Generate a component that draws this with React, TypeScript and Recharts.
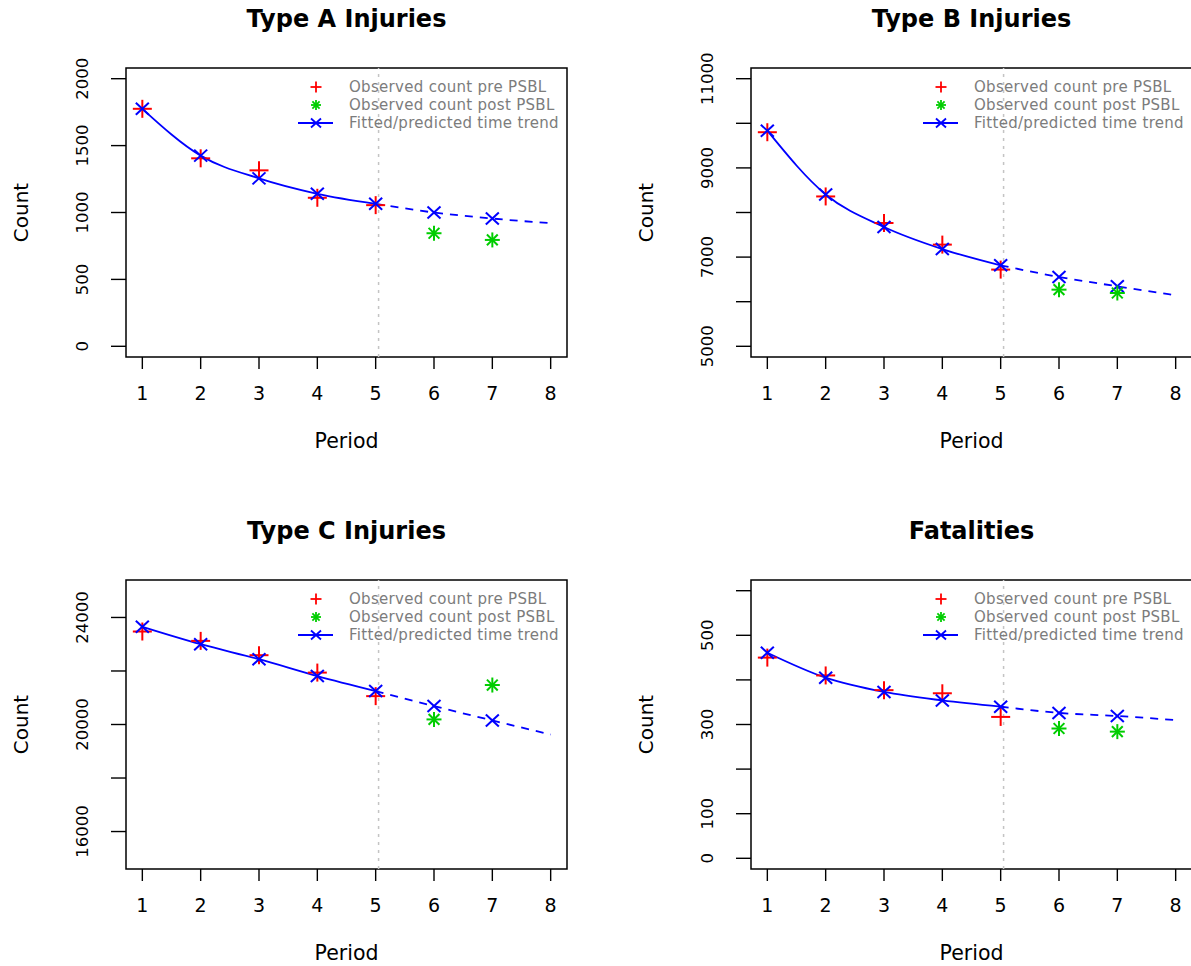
import React from 'react';
import { ComposedChart, Line, Scatter, XAxis, YAxis, ReferenceLine, ReferenceArea } from 'recharts';

// periods and intervention point
const PERIODS = [1, 2, 3, 4, 5, 6, 7, 8];
const PRE_PERIODS = [1, 2, 3, 4, 5];
const POST_PERIODS = [6, 7];
const X_LIM = [1, 8];
const PSBL_START = 5.05;

// Type A
const TYPE_A_PRE = [1775, 1405, 1315, 1110, 1055];
const TYPE_A_POST = [845, 795];
const TYPE_A_FIT = [1775, 1425, 1255, 1140, 1065, 1000, 955, 920];
const TYPE_A_YLIM = [0, 2000];
const TYPE_A_TICKS = [0, 500, 1000, 1500, 2000];
const TYPE_A_LABELS = [0, 500, 1000, 1500, 2000];

// Type B
const TYPE_B_PRE = [9800, 8360, 7765, 7280, 6720];
const TYPE_B_POST = [6270, 6195];
const TYPE_B_FIT = [9835, 8405, 7675, 7180, 6815, 6555, 6345, 6145];
const TYPE_B_YLIM = [5000, 11000];
const TYPE_B_TICKS = [5000, 6000, 7000, 8000, 9000, 10000, 11000];
const TYPE_B_LABELS = [5000, 7000, 9000, 11000];

// Type C
const TYPE_C_PRE = [23475, 23125, 22590, 21940, 21060];
const TYPE_C_POST = [20190, 21475];
const TYPE_C_FIT = [23650, 23000, 22440, 21810, 21250, 20690, 20150, 19625];
const TYPE_C_YLIM = [15000, 25000];
const TYPE_C_TICKS = [16000, 18000, 20000, 22000, 24000];
const TYPE_C_LABELS = [16000, 20000, 24000];

// Fatalities
const FATAL_PRE = [450, 410, 377, 370, 317];
const FATAL_POST = [291, 284];
const FATAL_FIT = [461, 405, 373, 354, 340, 326, 319, 310];
const FATAL_YLIM = [0, 600];
const FATAL_TICKS = [0, 100, 200, 300, 400, 500, 600];
const FATAL_LABELS = [0, 100, 300, 500];

const RED = '#ff0000';
const GREEN = '#00cd00';
const BLUE = '#0000ff';

const CELL_W = 625;
const CELL_H = 512;

// R-style 4% axis extension
const extend = (lim: number[]) => {
    const pad = (lim[1] - lim[0]) * 0.04;
    return [lim[0] - pad, lim[1] + pad];
};

const PlusMark = ({ cx, cy, w = 9.5, h = 9, sw = 2 }: any) => (
    <g stroke={RED} strokeWidth={sw}>
        <line x1={cx - w} y1={cy} x2={cx + w} y2={cy} />
        <line x1={cx} y1={cy - h} x2={cx} y2={cy + h} />
    </g>
);

const CrossMark = ({ cx, cy, w = 6.5, h = 6, sw = 2 }: any) => (
    <g stroke={BLUE} strokeWidth={sw}>
        <line x1={cx - w} y1={cy - h} x2={cx + w} y2={cy + h} />
        <line x1={cx - w} y1={cy + h} x2={cx + w} y2={cy - h} />
    </g>
);

const StarMark = ({ cx, cy, r = 7.5, sw = 2 }: any) => (
    <g stroke={GREEN} strokeWidth={sw}>
        <line x1={cx - r} y1={cy} x2={cx + r} y2={cy} />
        <line x1={cx} y1={cy - r} x2={cx} y2={cy + r} />
        <line x1={cx - r * 0.72} y1={cy - r * 0.72} x2={cx + r * 0.72} y2={cy + r * 0.72} />
        <line x1={cx - r * 0.72} y1={cy + r * 0.72} x2={cx + r * 0.72} y2={cy - r * 0.72} />
    </g>
);

const XTick = ({ x, y, payload }: any) => (
    <text x={x} y={y + 29} textAnchor="middle" fontSize={19} fill="#000">
        {payload.value}
    </text>
);

const makeYTick = (labels: number[]) => ({ x, y, payload }: any) => {
    if (!labels.includes(payload.value)) return <g />;
    return (
        <text
            transform={`translate(${x - 21},${y}) rotate(-90)`}
            textAnchor="middle"
            fontSize={16.5}
            fill="#000"
        >
            {payload.value}
        </text>
    );
};

function Legend() {
    const textProps = {
        x: 349,
        fontSize: 15,
        fill: '#7c7c7c',
        letterSpacing: 0.3,
        dominantBaseline: 'central' as const,
    };
    return (
        <g>
            <PlusMark cx={316} cy={87} w={5.5} h={5.5} sw={1.8} />
            <text y={87} {...textProps}>Observed count pre PSBL</text>
            <StarMark cx={316} cy={105} r={5} sw={1.8} />
            <text y={105} {...textProps}>Observed count post PSBL</text>
            <line x1={298} y1={123} x2={333} y2={123} stroke={BLUE} strokeWidth={1.8} />
            <CrossMark cx={316} cy={123} w={5} h={4.5} sw={1.8} />
            <text y={123} {...textProps}>Fitted/predicted time trend</text>
        </g>
    );
}

interface PanelProps {
    title: string;
    left: number;
    top: number;
    pre: number[];
    post: number[];
    fit: number[];
    ylim: number[];
    ticks: number[];
    labels: number[];
}

function Panel({ title, left, top, pre, post, fit, ylim, ticks, labels }: PanelProps) {
    const rows = PERIODS.map((p, i) => ({
        period: p,
        fitSolid: p <= 5 ? fit[i] : null,
        fitDashed: p >= 5 ? fit[i] : null,
    }));
    const preRows = PRE_PERIODS.map((p, i) => ({ period: p, value: pre[i] }));
    const postRows = POST_PERIODS.map((p, i) => ({ period: p, value: post[i] }));
    const xDomain = extend(X_LIM);
    const yDomain = extend(ylim);

    const solidDot = (props: any) => {
        const { cx, cy, payload, index } = props;
        if (cy == null || payload.fitSolid == null) return <g key={`s-${index}`} />;
        return <CrossMark key={`s-${index}`} cx={cx} cy={cy} />;
    };
    const dashedDot = (props: any) => {
        const { cx, cy, payload, index } = props;
        // no marker at the last (extrapolated) period, period 5 already drawn
        if (cy == null || payload.fitDashed == null || payload.period === 8 || payload.period === 5)
            return <g key={`d-${index}`} />;
        return <CrossMark key={`d-${index}`} cx={cx} cy={cy} />;
    };

    return (
        <div style={{ position: 'absolute', left, top, width: CELL_W, height: CELL_H }}>
            <ComposedChart
                width={CELL_W}
                height={CELL_H}
                data={rows}
                margin={{ top: 68, right: 58, bottom: 0, left: 0 }}
            >
                <XAxis
                    type="number"
                    dataKey="period"
                    domain={xDomain}
                    ticks={PERIODS}
                    interval={0}
                    allowDataOverflow
                    height={155}
                    tickSize={12}
                    axisLine={false}
                    tickLine={{ stroke: '#000', strokeWidth: 1.4 }}
                    tick={(p: any) => <XTick {...p} />}
                />
                <YAxis
                    type="number"
                    domain={yDomain}
                    ticks={ticks}
                    interval={0}
                    allowDataOverflow
                    width={126}
                    tickSize={15}
                    axisLine={false}
                    tickLine={{ stroke: '#000', strokeWidth: 1.4 }}
                    tick={makeYTick(labels)}
                />
                <ReferenceArea
                    x1={xDomain[0]}
                    x2={xDomain[1]}
                    y1={yDomain[0]}
                    y2={yDomain[1]}
                    fill="none"
                    fillOpacity={0}
                    stroke="#000"
                    strokeWidth={1.5}
                />
                <ReferenceLine x={PSBL_START} stroke="#c4c4c4" strokeWidth={1.5} strokeDasharray="3 5" />
                <Scatter
                    data={preRows}
                    dataKey="value"
                    isAnimationActive={false}
                    shape={(p: any) => <PlusMark cx={p.cx} cy={p.cy} />}
                />
                <Line
                    type="monotone"
                    dataKey="fitSolid"
                    stroke={BLUE}
                    strokeWidth={1.8}
                    dot={solidDot}
                    activeDot={false}
                    isAnimationActive={false}
                />
                <Line
                    type="monotone"
                    dataKey="fitDashed"
                    stroke={BLUE}
                    strokeWidth={1.8}
                    strokeDasharray="8 7"
                    dot={dashedDot}
                    activeDot={false}
                    isAnimationActive={false}
                />
                <Scatter
                    data={postRows}
                    dataKey="value"
                    isAnimationActive={false}
                    shape={(p: any) => <StarMark cx={p.cx} cy={p.cy} />}
                />
            </ComposedChart>
            <svg
                width={CELL_W}
                height={CELL_H}
                style={{ position: 'absolute', left: 0, top: 0, pointerEvents: 'none' }}
                fontFamily='"DejaVu Sans", sans-serif'
            >
                <text x={346.5} y={27} textAnchor="middle" fontSize={24} fontWeight="bold" fill="#000">
                    {title}
                </text>
                <text transform="translate(28,212.5) rotate(-90)" textAnchor="middle" fontSize={20} fill="#000">
                    Count
                </text>
                <text x={346.5} y={448} textAnchor="middle" fontSize={20.5} fill="#000">
                    Period
                </text>
                <Legend />
            </svg>
        </div>
    );
}

export default function App() {
    return (
        <div
            style={{
                position: 'absolute',
                left: 0,
                top: 0,
                width: 1191,
                height: 966,
                overflow: 'hidden',
                background: '#fff',
                fontFamily: '"DejaVu Sans", sans-serif',
            }}
        >
            <Panel title="Type A Injuries" left={0} top={0} pre={TYPE_A_PRE} post={TYPE_A_POST} fit={TYPE_A_FIT}
                   ylim={TYPE_A_YLIM} ticks={TYPE_A_TICKS} labels={TYPE_A_LABELS} />
            <Panel title="Type B Injuries" left={CELL_W} top={0} pre={TYPE_B_PRE} post={TYPE_B_POST} fit={TYPE_B_FIT}
                   ylim={TYPE_B_YLIM} ticks={TYPE_B_TICKS} labels={TYPE_B_LABELS} />
            <Panel title="Type C Injuries" left={0} top={CELL_H} pre={TYPE_C_PRE} post={TYPE_C_POST} fit={TYPE_C_FIT}
                   ylim={TYPE_C_YLIM} ticks={TYPE_C_TICKS} labels={TYPE_C_LABELS} />
            <Panel title="Fatalities" left={CELL_W} top={CELL_H} pre={FATAL_PRE} post={FATAL_POST} fit={FATAL_FIT}
                   ylim={FATAL_YLIM} ticks={FATAL_TICKS} labels={FATAL_LABELS} />
        </div>
    );
}
